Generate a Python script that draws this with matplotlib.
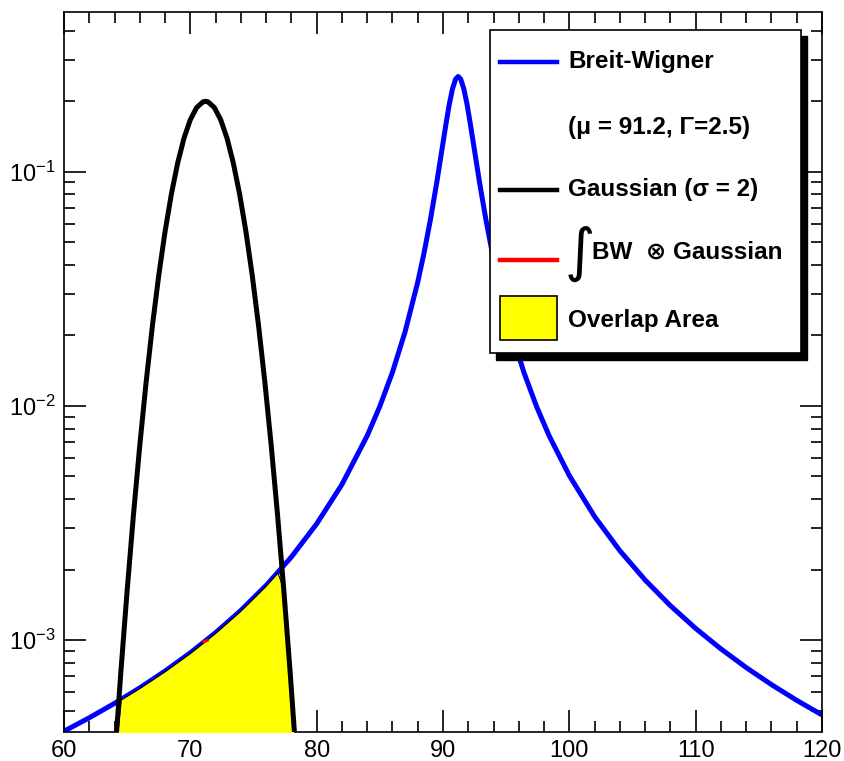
import numpy as np
import matplotlib
matplotlib.use('Agg')
import matplotlib.pyplot as plt
from matplotlib.patches import Rectangle
from matplotlib.lines import Line2D
from matplotlib.ticker import LogLocator, MultipleLocator

plt.rcParams['font.family'] = ['Liberation Sans', 'DejaVu Sans']
plt.rcParams['mathtext.default'] = 'regular'

# Breit-Wigner curve
bw_x = [60, 62, 64, 66, 68, 70, 72, 74, 76, 78, 80, 82, 84, 85, 86, 87, 88,
        88.5, 89, 89.5, 90, 90.25, 90.5, 90.75, 91, 91.2, 91.4, 91.65, 91.9,
        92.15, 92.4, 92.9, 93.4, 93.9, 94.4, 95.4, 96.4, 97.4, 98.4, 100,
        102, 104, 106, 108, 110, 112, 114, 116, 118, 120]
bw_y = [4.081e-4, 4.658e-4, 5.367e-4, 6.250e-4, 7.371e-4, 8.822e-4, 1.075e-3,
        1.338e-3, 1.711e-3, 2.263e-3, 3.133e-3, 4.616e-3, 7.451e-3, 9.947e-3,
        1.391e-2, 2.072e-2, 3.372e-2, 4.496e-2, 6.215e-2, 8.938e-2, 0.1326,
        0.1614, 0.1941, 0.2254, 0.2483, 0.2546, 0.2483, 0.2254, 0.1941,
        0.1614, 0.1326, 8.938e-2, 6.215e-2, 4.496e-2, 3.372e-2, 2.072e-2,
        1.391e-2, 9.947e-3, 7.451e-3, 5.036e-3, 3.366e-3, 2.406e-3, 1.804e-3,
        1.402e-3, 1.121e-3, 9.164e-4, 7.631e-4, 6.453e-4, 5.528e-4, 4.791e-4]

# Gaussian curve (sigma = 2)
g_x = [64.0, 64.5, 65.0, 65.5, 66.0, 66.5, 67.0, 67.5, 68.0, 68.5, 69.0, 69.5,
       70.0, 70.5, 71.0, 71.2, 71.4, 71.9, 72.4, 72.9, 73.4, 73.9, 74.4, 74.9,
       75.4, 75.9, 76.4, 76.9, 77.4, 77.9, 78.4]
g_y = [3.06e-4, 7.30e-4, 1.633e-3, 3.437e-3, 6.79e-3, 1.261e-2, 2.200e-2,
       3.605e-2, 5.545e-2, 8.019e-2, 0.10893, 0.13901, 0.16662, 0.18762,
       0.19847, 0.19947, 0.19847, 0.18762, 0.16662, 0.13901, 0.10893,
       8.019e-2, 5.545e-2, 3.605e-2, 2.200e-2, 1.261e-2, 6.79e-3, 3.437e-3,
       1.633e-3, 7.30e-4, 3.06e-4]

# convolution (only a tiny bit visible)
conv_x = [71.05, 71.35]
conv_y = [9.85e-4, 9.97e-4]

fig = plt.figure(figsize=(8.44, 7.61), dpi=100)
ax = fig.add_axes([64 / 844, 1 - 732 / 761, 758 / 844, 720 / 761])

ax.plot(bw_x, bw_y, color='#0000ff', lw=3.6, zorder=2)

# overlap area = min(BW, Gaussian)
bw_at_g = 10 ** np.interp(g_x, bw_x, np.log10(bw_y))
overlap = np.minimum(np.array(g_y), bw_at_g)
ax.fill_between(g_x, 1e-5, overlap, facecolor='#ffff00', edgecolor='black',
                lw=0.8, zorder=3)

ax.plot(conv_x, conv_y, color='red', lw=2, zorder=4)
ax.plot(g_x, g_y, color='black', lw=3.6, zorder=5)

ax.set_yscale('log')
ax.set_xlim(60, 120)
ax.set_ylim(4.05e-4, 0.48)

ax.xaxis.set_major_locator(MultipleLocator(10))
ax.xaxis.set_minor_locator(MultipleLocator(2))
ax.yaxis.set_major_locator(LogLocator(base=10))
ax.yaxis.set_minor_locator(LogLocator(base=10, subs=np.arange(2, 10)))
ax.yaxis.set_minor_formatter(plt.NullFormatter())
ax.tick_params(which='both', direction='in', top=True, right=True,
               labelsize=17, width=1.2, pad=6)
ax.tick_params(which='major', length=16)
ax.tick_params(which='minor', length=8)
for s in ax.spines.values():
    s.set_linewidth(1.2)

# legend box drawn by hand, ROOT style with shadow
lx0, lx1, ly0, ly1 = 0.562, 0.972, 0.526, 0.975
ax.add_patch(Rectangle((lx0 + 0.008, ly0 - 0.009), lx1 - lx0, ly1 - ly0,
                       transform=ax.transAxes, facecolor='black',
                       edgecolor='black', zorder=9, clip_on=False))
ax.add_patch(Rectangle((lx0, ly0), lx1 - lx0, ly1 - ly0,
                       transform=ax.transAxes, facecolor='white',
                       edgecolor='black', lw=1.2, zorder=10, clip_on=False))

sx0, sx1, tx = 0.575, 0.650, 0.665
fs = 17.5
entries = [(0.931, '#0000ff', 'Breit-Wigner'),
           (0.753, 'black', 'Gaussian (\u03c3 = 2)')]
for yy, col, txt in entries:
    ax.add_line(Line2D([sx0, sx1], [yy, yy], transform=ax.transAxes,
                       color=col, lw=3.2, zorder=11))
    ax.text(tx, yy, txt, transform=ax.transAxes, fontsize=fs,
            fontweight='bold', va='center', ha='left', zorder=11)

ax.text(tx, 0.839, '(\u03bc = 91.2, \u0393=2.5)', transform=ax.transAxes,
        fontsize=fs, fontweight='bold', va='center', ha='left', zorder=11)

ax.add_line(Line2D([sx0, sx1], [0.655, 0.655], transform=ax.transAxes,
                   color='red', lw=3.2, zorder=11))
ax.text(tx - 0.004, 0.664, '\u222b', transform=ax.transAxes, fontsize=42,
        family=['DejaVu Sans'], va='center', ha='left', zorder=11)
ax.text(0.697, 0.667, 'BW  \u2297 Gaussian', transform=ax.transAxes,
        fontsize=fs, fontweight='bold', va='center', ha='left', zorder=11)

ax.add_patch(Rectangle((sx0, 0.545), sx1 - sx0, 0.06, transform=ax.transAxes,
                       facecolor='#ffff00', edgecolor='black', lw=1.2,
                       zorder=11))
ax.text(tx, 0.572, 'Overlap Area', transform=ax.transAxes, fontsize=fs,
        fontweight='bold', va='center', ha='left', zorder=11)

fig.savefig('out.png', dpi=100)
